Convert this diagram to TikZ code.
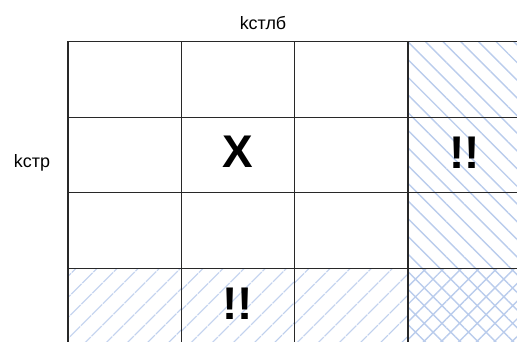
\documentclass[tikz,border=0pt]{standalone}
\usepackage{fontspec}
\setmainfont{Liberation Sans}
\usepackage{tikz}
\usetikzlibrary{patterns.meta}
\definecolor{hatchblue}{RGB}{186,204,236}
\definecolor{gridgray}{RGB}{40,40,40}

\begin{document}
\begin{tikzpicture}[
    x=1bp, y=-1bp,
    cell/.style={rectangle, draw=gridgray, line width=1.2bp, minimum width=113.3bp, minimum height=75.6bp, inner sep=0pt},
    colhatch/.style={pattern={Lines[angle=-45, distance=12.5bp, line width=1.4bp]}, pattern color=hatchblue},
    rowhatch/.style={pattern={Lines[angle=45, distance=15bp, line width=1.4bp]}, pattern color=hatchblue},
    crosshatch/.style={pattern={Hatch[angle=45, distance=12.5bp, line width=1.4bp]}, pattern color=hatchblue},
    head/.style={font=\fontsize{18}{18}\selectfont},
    cellmark/.style={font=\fontsize{46}{46}\selectfont\bfseries, inner sep=0pt}
]
\useasboundingbox (0,0) rectangle (517,341);
\clip (0,0) rectangle (517,341);

% Headers
\node[head] (colhead) at (263,23) {kстлб};
\node[head] (rowhead) at (32,163) {kстр};

% Plain cells
\foreach \r in {1,2,3}
  \foreach \c in {1,2,3}
    \node[cell] (c\r\c) at ({68+113.3*(\c-0.5)},{41.5+75.6*(\r-0.5)}) {};

% Hatched column and row
\foreach \r in {1,2,3}
  \node[cell, colhatch] (c\r4) at ({68+113.3*3.5},{41.5+75.6*(\r-0.5)}) {};
\foreach \c in {1,2,3}
  \node[cell, rowhatch] (c4\c) at ({68+113.3*(\c-0.5)},{41.5+75.6*3.5}) {};
\node[cell, crosshatch] (c44) at ({68+113.3*3.5},{41.5+75.6*3.5}) {};

% Marks
\node[cellmark] (hit) at ([yshift=3bp]c22.center) {X};
\node[cellmark] (warncol) at ([yshift=2bp]c24.center) {!!};
\node[cellmark] (warnrow) at ([yshift=2.5bp]c42.center) {!!};

\end{tikzpicture}
\end{document}
